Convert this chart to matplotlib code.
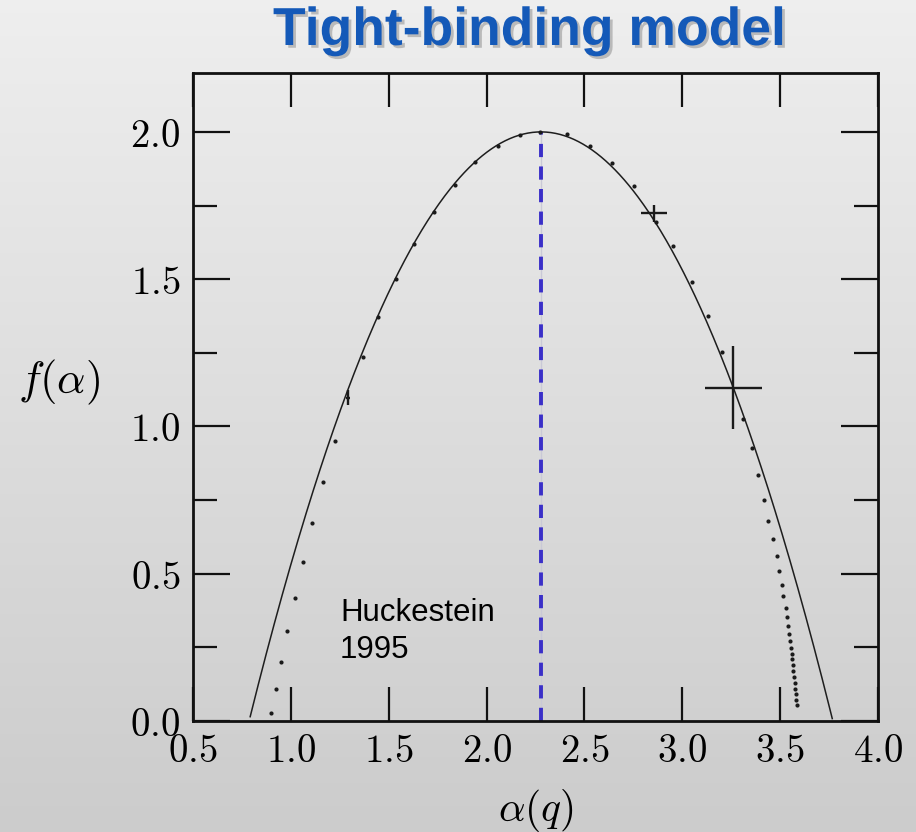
import numpy as np
import matplotlib
matplotlib.use("Agg")
import matplotlib.pyplot as plt
import matplotlib.patheffects as pe

plt.rcParams['mathtext.fontset'] = 'cm'

# ---------------- data ----------------
title = "Tight-binding model"
annotation = "Huckestein\n1995"
xtick_values = [0.5, 1.0, 1.5, 2.0, 2.5, 3.0, 3.5, 4.0]
xtick_labels = ["0.5", "1.0", "1.5", "2.0", "2.5", "3.0", "3.5", "4.0"]
ytick_values = [0.0, 0.5, 1.0, 1.5, 2.0]
ytick_labels = ["0.0", "0.5", "1.0", "1.5", "2.0"]
yminor_values = [0.25, 0.75, 1.25, 1.75]

# parabolic approximation parameter (position of the maximum)
alpha0 = 2.278

# numerical data points (dots)
alpha_pts = [0.899, 0.923, 0.948, 0.979, 1.021, 1.060, 1.110, 1.166, 1.226,
             1.367, 1.447, 1.537, 1.629, 1.731, 1.839, 1.941, 2.060, 2.171, 2.273,
             2.410, 2.529, 2.643, 2.754, 2.866, 2.954, 3.048, 3.133, 3.201,
             3.312, 3.355, 3.389, 3.418, 3.440, 3.465, 3.483, 3.496, 3.508,
             3.516, 3.529, 3.534, 3.539, 3.545, 3.551, 3.554, 3.559, 3.562,
             3.565, 3.568, 3.571, 3.574, 3.577, 3.580, 3.583, 3.585]
f_pts = [0.028, 0.109, 0.200, 0.306, 0.417, 0.540, 0.672, 0.811, 0.950,
         1.237, 1.373, 1.500, 1.621, 1.729, 1.821, 1.897, 1.953, 1.990, 2.001,
         1.993, 1.953, 1.895, 1.815, 1.695, 1.613, 1.492, 1.375, 1.253,
         1.027, 0.928, 0.834, 0.752, 0.678, 0.618, 0.559, 0.508, 0.463,
         0.423, 0.385, 0.353, 0.323, 0.296, 0.270, 0.247, 0.228, 0.210,
         0.190, 0.170, 0.150, 0.130, 0.110, 0.090, 0.070, 0.055]

# points with error bars
err_alpha = [1.294, 2.856, 3.261]
err_f = [1.098, 1.723, 1.132]
err_x = [0.010, 0.068, 0.145]
err_y = [0.025, 0.028, 0.142]

# ---------------- figure ----------------
W, H = 916, 832
fig = plt.figure(figsize=(W / 100, H / 100), dpi=100)

# gradient background
bg = fig.add_axes([0, 0, 1, 1], zorder=-10)
grad = np.linspace(0.935, 0.80, 256).reshape(-1, 1)
bg.imshow(np.dstack([grad, grad, grad]), aspect='auto', extent=[0, 1, 0, 1],
          origin='upper')
bg.set_axis_off()

ax = fig.add_axes([193 / W, 1 - 721 / H, (878 - 193) / W, (721 - 73) / H])
ax.patch.set_alpha(0)
ax.set_xlim(0.5, 4.0)
ax.set_ylim(0.0, 2.2)

# parabola curve
a = np.linspace(0.5, 4.0, 600)
f = 2 - (a - alpha0) ** 2 / (4 * (alpha0 - 2))
mask = f >= 0
ax.plot(a[mask], f[mask], color='#1e1e1e', lw=1.1, zorder=3)

# dots
ax.plot(alpha_pts, f_pts, ls='none', marker='o', ms=3.0, color='#1a1a1a',
        markeredgewidth=0, zorder=4)

# error bars
ax.errorbar(err_alpha, err_f, xerr=err_x, yerr=err_y, fmt='none',
            ecolor='#1a1a1a', elinewidth=1.7, capsize=0, zorder=4)

# vertical dashed line at the maximum
ax.plot([alpha0, alpha0], [0, 2.0], color='#c9c9d6', lw=1.0, zorder=2)
ax.plot([alpha0, alpha0], [0, 2.0], color='#3a2fc8', lw=2.8,
        dashes=(3.4, 2.4), zorder=2.5)

# ticks
ax.set_xticks(xtick_values, labels=[f"${t}$" for t in xtick_labels])
ax.set_yticks(ytick_values, labels=[f"${t}$" for t in ytick_labels])
ax.set_yticks(yminor_values, minor=True)
ax.tick_params(axis='both', which='both', direction='in', top=True, right=True,
               color='#111111', width=1.6)
ax.tick_params(axis='x', which='major', length=24.5, pad=8, labelsize=28)
ax.tick_params(axis='y', which='major', length=26.5, pad=9, labelsize=28)
ax.tick_params(axis='y', which='minor', length=17)
for s in ax.spines.values():
    s.set_linewidth(2.0)
    s.set_color('#111111')

ax.set_xlabel(r"$\alpha(q)$", fontsize=30, labelpad=12)
ax.set_ylabel(r"$f(\alpha)$", fontsize=32, rotation=0, labelpad=0)
ax.yaxis.set_label_coords(-0.195, 0.485)

# annotation
ax.text(1.251, 0.418, annotation, fontsize=22.5, family='Liberation Sans',
        va='top', ha='left', color='black', linespacing=1.32, zorder=5)

# title
fig.text(530 / W, 1 - 31 / H, title, fontsize=38.5, fontweight='bold',
         family='Liberation Sans', color='#1459b8', ha='center', va='center',
         path_effects=[pe.withSimplePatchShadow(offset=(2, -2),
                                                shadow_rgbFace='#888888',
                                                alpha=0.5)])

fig.savefig("out.png", dpi=100)
